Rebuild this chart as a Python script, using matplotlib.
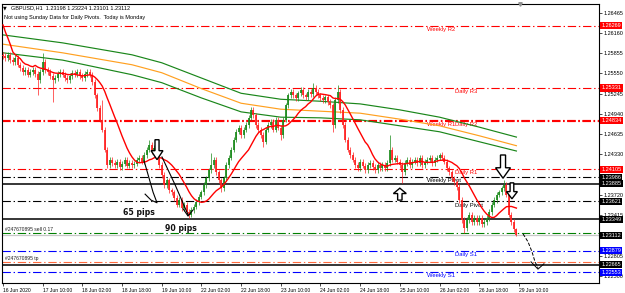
import numpy as np
import pandas as pd
import matplotlib
matplotlib.use("Agg")
import matplotlib.pyplot as plt
from matplotlib import transforms

plt.rcParams['font.family'] = ['Liberation Sans', 'DejaVu Sans']
plt.rcParams['lines.scale_dashes'] = False

# ---------------- data ----------------
symbol = "GBPUSD,H1"
last_ohlc = [1.23198, 1.23224, 1.23101, 1.23112]
first_open = 1.2583

closes = [
    1.2581, 1.2578, 1.2583, 1.2575, 1.2572, 1.2578, 1.2568, 1.2563, 1.2557, 1.2560,
    1.2553, 1.2557, 1.2560, 1.2554, 1.2545, 1.2557, 1.2572, 1.2560, 1.2557, 1.2551,
    1.2545, 1.2548, 1.2554, 1.2557, 1.2553, 1.2548, 1.2545, 1.2551, 1.2556, 1.2554,
    1.2557, 1.2551, 1.2548, 1.2554, 1.2557, 1.2553, 1.2542, 1.2522, 1.2503, 1.2485,
    1.2470, 1.2440, 1.2417, 1.2425, 1.2420, 1.2417, 1.2422, 1.2414, 1.2419, 1.2425,
    1.2416, 1.2420, 1.2417, 1.2419, 1.2425, 1.2428, 1.2422, 1.2432, 1.2440, 1.2447,
    1.2437, 1.2443, 1.2432, 1.2417, 1.2402, 1.2387, 1.2394, 1.2379, 1.2376, 1.2367,
    1.2357, 1.2364, 1.2352, 1.2357, 1.2346, 1.2342, 1.2349, 1.2354, 1.2361, 1.2369,
    1.2376, 1.2387, 1.2397, 1.2409, 1.2417, 1.2425, 1.2406, 1.2394, 1.2382, 1.2397,
    1.2417, 1.2428, 1.2440, 1.2455, 1.2467, 1.2473, 1.2462, 1.2470, 1.2477, 1.2488,
    1.2500, 1.2492, 1.2477, 1.2470, 1.2462, 1.2452, 1.2470, 1.2477, 1.2482, 1.2470,
    1.2485, 1.2473, 1.2462, 1.2485, 1.2507, 1.2522, 1.2527, 1.2522, 1.2518, 1.2525,
    1.2530, 1.2522, 1.2519, 1.2527, 1.2524, 1.2533, 1.2527, 1.2522, 1.2518, 1.2515,
    1.2519, 1.2512, 1.2507, 1.2477, 1.2515, 1.2527, 1.2500, 1.2477, 1.2455, 1.2440,
    1.2432, 1.2425, 1.2417, 1.2412, 1.2422, 1.2416, 1.2409, 1.2417, 1.2420, 1.2414,
    1.2409, 1.2417, 1.2412, 1.2417, 1.2412, 1.2420, 1.2440, 1.2425, 1.2428, 1.2422,
    1.2417, 1.2406, 1.2420, 1.2425, 1.2417, 1.2422, 1.2425, 1.2420, 1.2428, 1.2417,
    1.2422, 1.2425, 1.2428, 1.2420, 1.2425, 1.2428, 1.2432, 1.2428, 1.2422, 1.2412,
    1.2406, 1.2397, 1.2391, 1.2384, 1.2364, 1.2334, 1.2322, 1.2334, 1.2342, 1.2331,
    1.2337, 1.2331, 1.2337, 1.2328, 1.2331, 1.2337, 1.2346, 1.2357, 1.2364, 1.2372,
    1.2376, 1.2382, 1.2387, 1.2372, 1.2342, 1.2331, 1.23198, 1.23112,
]
spike_high = {16: 1.2586, 40: 1.2515, 59: 1.2455, 84: 1.2435, 100: 1.2504, 125: 1.2541,
              135: 1.2538, 156: 1.2462, 176: 1.2435, 202: 1.2394}
spike_low = {14: 1.2522, 20: 1.2512, 75: 1.2337, 88: 1.2376, 105: 1.2444, 112: 1.2455,
             133: 1.2467, 161: 1.2390, 186: 1.2315}
wick_pips = 4

ma_period = 14
ma_head = [1.2628, 1.2617, 1.2608, 1.2598, 1.2587, 1.2583, 1.2580, 1.2577, 1.2572,
           1.2569, 1.2568, 1.2566, 1.2565]

env_bars = [0, 24, 52, 64, 80, 96, 112, 128, 144, 160, 176, 192, 207]
ma_upper = [1.2613, 1.2601, 1.2583, 1.2571, 1.2548, 1.2525, 1.2516, 1.2513, 1.2509, 1.2500, 1.2489, 1.2474, 1.2459]
ma_mid = [1.2599, 1.2586, 1.2568, 1.2556, 1.2532, 1.2510, 1.2501, 1.2498, 1.2495, 1.2486, 1.2476, 1.2461, 1.2446]
ma_lower = [1.2586, 1.2575, 1.2553, 1.2541, 1.2518, 1.2497, 1.2489, 1.2488, 1.2485, 1.2476, 1.2467, 1.2452, 1.2438]

pivot_names = ['Weekly R2', 'Daily R3', 'Weekly R1', 'Daily R2', 'Daily R1',
               'Weekly Pivot', 'Daily Pivot', 'Daily S1', 'Weekly S1']
pivot_prices = [1.26269, 1.25331, 1.24834, 1.24834, 1.24105, 1.23986, 1.23621, 1.22879, 1.22553]
user_hlines = [1.23885, 1.23349, 1.22665]
order_sell = 1.2314
order_tp = 1.2270
order_id = "#247670895"

tick_bars = [0, 16, 32, 48, 64, 80, 96, 112, 128, 144, 160, 176, 192, 208]
tick_labels = ['16 Jun 2020', '17 Jun 10:00', '18 Jun 02:00', '18 Jun 18:00', '19 Jun 10:00',
               '22 Jun 02:00', '22 Jun 18:00', '23 Jun 10:00', '24 Jun 02:00', '24 Jun 18:00',
               '25 Jun 10:00', '26 Jun 02:00', '26 Jun 18:00', '29 Jun 10:00']
price_ticks = [1.26465, 1.26160, 1.25855, 1.25550, 1.25245, 1.24940, 1.24635, 1.24330,
               1.24025, 1.23720, 1.23415, 1.23110, 1.22805, 1.22500]
hidden_ticks = [1.24025, 1.23110]   # covered by level boxes in the reference

# ---------------- derived ----------------
n = len(closes)
c = np.array(closes)
o = np.concatenate([[first_open], c[:-1]])
o[-1] = last_ohlc[0]
hi = np.maximum(o, c) + wick_pips * 1e-4
lo = np.minimum(o, c) - wick_pips * 1e-4
for k, v in spike_high.items():
    hi[k] = v
for k, v in spike_low.items():
    lo[k] = v
hi[-1], lo[-1] = last_ohlc[1], last_ohlc[2]
bars = np.arange(n)

ma = pd.Series(c).rolling(ma_period).mean().to_numpy()
ma[:len(ma_head)] = ma_head

# ---------------- figure ----------------
W, H = 625, 293
fig = plt.figure(figsize=(W / 100, H / 100), dpi=100)
ax = fig.add_axes([2 / W, 10 / H, 597 / W, 279.5 / H])
ax.set_xlim(-0.4, 240.3)
ax.set_ylim(1.22391, 1.26603)
for s in ax.spines.values():
    s.set_linewidth(0.8)
    s.set_color('black')

RED, BLUE, BLK = '#ff0000', '#0000ff', '#000000'
dd = (0, (6.0, 2.0, 1.0, 2.0))

lvl_colors = [RED, RED, RED, RED, RED, BLK, BLK, BLUE, BLUE]
lvl_lw = [0.8, 0.8, 1.5, 1.5, 0.8, 0.8, 0.8, 0.8, 0.8]
lbl_x = {'Weekly': 171, 'Daily': 182.3}
for name, p, col, lw in zip(pivot_names, pivot_prices, lvl_colors, lvl_lw):
    ax.axhline(p, color=col, lw=lw, linestyle=dd, zorder=1)
    ax.text(lbl_x[name.split()[0]], p - 0.00018, name, color=col, fontsize=4.2,
            va='top', ha='left', zorder=1.5)

for p in user_hlines:
    ax.axhline(p, color='black', lw=1.1, zorder=1)
ax.axhline(order_sell, color='#008000', lw=0.8, linestyle=dd, zorder=1)
ax.axhline(order_tp, color='#ff6a3d', lw=0.8, linestyle=dd, zorder=1)
ax.axhline(last_ohlc[3], color='#c8c8c8', lw=0.9, zorder=1)
ax.text(0.8, order_sell + 0.00025, f"{order_id} sell 0.17", fontsize=3.6, color='#202020',
        va='bottom', ha='left', zorder=1.5)
ax.text(0.8, order_tp + 0.00025, f"{order_id} tp", fontsize=3.6, color='#202020',
        va='bottom', ha='left', zorder=1.5)

# envelope / long MAs
ax.plot(env_bars, ma_upper, color='#1a861a', lw=0.85, zorder=2)
ax.plot(env_bars, ma_mid, color='#ffa020', lw=0.85, zorder=2)
ax.plot(env_bars, ma_lower, color='#1a861a', lw=0.85, zorder=2)

# candles
up = c >= o
colors = np.where(up, '#1a8a1a', '#ff2020')
ax.vlines(bars, lo, hi, colors=colors, lw=0.5, zorder=3)
ax.vlines(bars, np.minimum(o, c), np.maximum(o, c), colors=colors, lw=1.25, zorder=3)

# red MA
ax.plot(bars, ma, color='#ff0000', lw=1.0, zorder=4)

# ---------------- hand drawings ----------------
def hollow_arrow(cx, tip, w, h, up=False):
    shape = np.array([(-0.17, 1), (0.17, 1), (0.17, 0.45), (0.5, 0.45), (0, 0),
                      (-0.5, 0.45), (-0.17, 0.45)])
    xs = cx + shape[:, 0] * w
    ys = tip - shape[:, 1] * h if up else tip + shape[:, 1] * h
    ax.fill(xs, ys, facecolor='white', edgecolor='black', lw=1.0, zorder=6)

hollow_arrow(62.1, 1.2425, 4.8, 0.0030)
hollow_arrow(201.6, 1.2397, 6.0, 0.0035)
hollow_arrow(205.2, 1.2366, 4.4, 0.0024)
hollow_arrow(160.0, 1.2382, 5.2, 0.0018, up=True)

ax.plot([56.9, 58.9, 60.5, 62.1, 59.7, 57.3], [1.2423, 1.2397, 1.2376, 1.2360, 1.2364, 1.2373],
        color='black', lw=0.8, zorder=6)
ax.plot([64.1, 69.4, 74.6], [1.2429, 1.2387, 1.2342], color='black', lw=0.8, zorder=6)
ax.plot([72.6, 74.6, 76.6], [1.2351, 1.2340, 1.2349], color='black', lw=0.8, zorder=6)
ax.plot([209.7, 211.7, 213.3, 214.5, 215.7], [1.2313, 1.2301, 1.2286, 1.2271, 1.2262],
        color='black', lw=0.7, linestyle=(0, (2.5, 1.2)), zorder=6)
ax.plot([212.9, 215.7, 218.1], [1.2271, 1.2260, 1.2268], color='black', lw=0.7, zorder=6)

ax.text(48.4, 1.2345, "65 pips", fontsize=5.6, fontweight='bold', color='#101010',
        va='center', ha='left', family=['DejaVu Sans'], zorder=6)
ax.text(65.3, 1.2321, "90 pips", fontsize=5.6, fontweight='bold', color='#101010',
        va='center', ha='left', family=['DejaVu Sans'], zorder=6)

# ---------------- axes ----------------
ax.set_xticks(tick_bars)
ax.set_xticklabels(tick_labels, fontsize=3.6, ha='left')
ax.tick_params(axis='x', length=2.5, width=0.5, pad=0.8, direction='out')
ax.yaxis.tick_right()
ax.set_yticks(price_ticks)
ax.set_yticklabels(["" if p in hidden_ticks else f"{p:.5f}" for p in price_ticks], fontsize=4.0)
ax.tick_params(axis='y', length=2.5, width=0.5, pad=1.0, direction='out')

box_prices = [1.26269, 1.25331, 1.24834, 1.24105, 1.23986, 1.23885, 1.23621, 1.23349,
              1.23112, 1.22879, 1.22665, 1.22553]
box_colors = [RED, RED, RED, RED, BLK, BLK, BLK, BLK, BLK, BLUE, BLK, BLUE]
tr = transforms.blended_transform_factory(ax.transAxes, ax.transData)
for p, bg in zip(box_prices, box_colors):
    ax.text(1.0 + 2.5 / 597, p, f"{p:.5f}", transform=tr, fontsize=4.0, color='white',
            va='center', ha='left', clip_on=False, zorder=10,
            bbox=dict(boxstyle='square,pad=0.2', fc=bg, ec='none'))

# chart-shift marker
ax.plot([208.5], [1.26590], marker='v', ms=2.5, color='#909090', zorder=5, clip_on=False)

# header
fig.text(3 / W, 1 - 8 / H, "\u25bc", fontsize=3.5, va='center', ha='left', family=['DejaVu Sans'])
fig.text(11 / W, 1 - 8 / H,
         f"{symbol}  " + " ".join(f"{v:.5f}" for v in last_ohlc),
         fontsize=4.0, va='center', ha='left')
fig.text(4 / W, 1 - 17 / H, "Not using Sunday Data for Daily Pivots.  Today is Monday",
         fontsize=4.0, va='center', ha='left')

fig.savefig("out.png", dpi=100)
